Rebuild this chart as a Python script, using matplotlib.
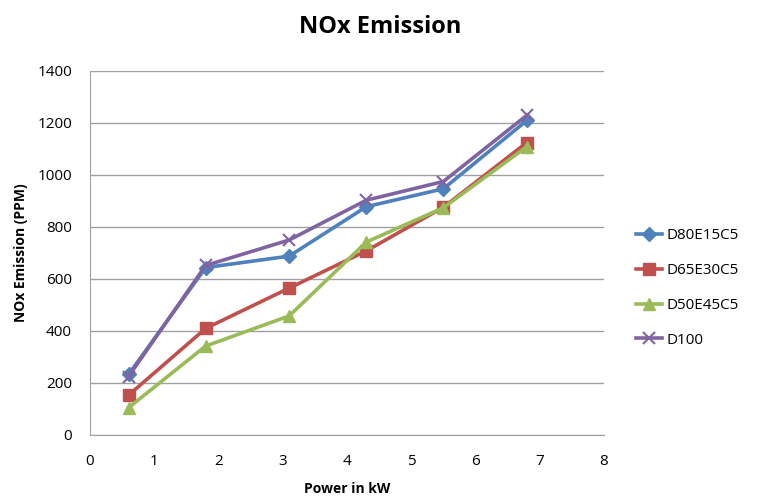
import matplotlib
matplotlib.use("Agg")
import matplotlib.pyplot as plt

# Data
power = [0.6, 1.8, 3.1, 4.3, 5.5, 6.8]
d80e15c5 = [233, 644, 688, 878, 947, 1210]
d65e30c5 = [153, 410, 565, 708, 876, 1125]
d50e45c5 = [105, 342, 458, 742, 874, 1109]
d100 = [225, 652, 750, 903, 975, 1230]

plt.rcParams['font.family'] = ['Open Sans', 'DejaVu Sans']

fig = plt.figure(figsize=(7.6, 5.0), dpi=100)
ax = fig.add_axes([90 / 760, 1 - 435 / 500, 514 / 760, 364 / 500])

ax.plot(power, d80e15c5, color='#4F81BD', lw=2.6, marker='D', ms=7, label='D80E15C5')
ax.plot(power, d65e30c5, color='#C0504D', lw=2.6, marker='s', ms=8, label='D65E30C5')
ax.plot(power, d50e45c5, color='#9BBB59', lw=2.6, marker='^', ms=9, label='D50E45C5')
ax.plot(power, d100, color='#8064A2', lw=2.6, marker='x', ms=9, mew=1.5, label='D100')

ax.set_xlim(0, 8)
ax.set_ylim(0, 1400)
ax.set_xticks(range(0, 9))
ax.set_yticks(range(0, 1401, 200))
ax.yaxis.grid(True, color='#A0A0A0', lw=1)
ax.set_axisbelow(True)
for s in ['top', 'right']:
    ax.spines[s].set_visible(False)
for s in ['left', 'bottom']:
    ax.spines[s].set_color('#A0A0A0')
ax.tick_params(axis='y', length=0, labelsize=11, pad=13)
ax.tick_params(axis='x', length=0, labelsize=11, pad=14)

ax.set_xlabel('Power in kW', fontsize=10, fontweight='bold')
ax.set_ylabel('NOx Emission (PPM)', fontsize=10, fontweight='bold')
ax.yaxis.set_label_coords(-62 / 514, 0.5)
ax.xaxis.set_label_coords(0.5, -47 / 364)
fig.text(0.5, 1 - 27 / 500, 'NOx Emission', ha='center', va='center', fontsize=17, fontweight='bold')

leg = ax.legend(loc='center left', bbox_to_anchor=(1.05, 1 - (288 - 71) / 364), frameon=False,
                fontsize=11, labelspacing=1.3, handlelength=1.7, handletextpad=0.3,
                borderaxespad=0)

fig.savefig('out.png', dpi=100)
